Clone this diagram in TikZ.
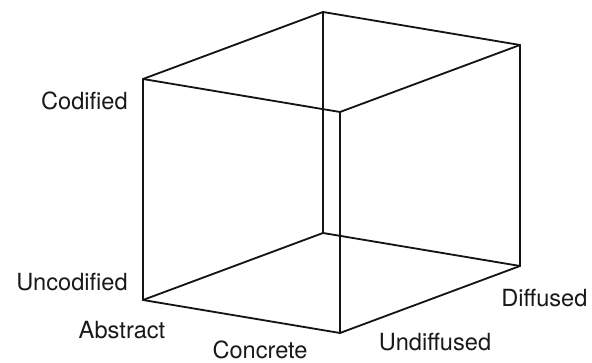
\documentclass[tikz,border=0pt]{standalone}
\usepackage{fontspec}
\setmainfont{TeX Gyre Heros}
\usepackage{tikz}
\usetikzlibrary{calc,positioning}
\definecolor{EdgeBlack}{RGB}{20,20,20}
\definecolor{LabelBlack}{RGB}{25,25,25}

\begin{document}
\begin{tikzpicture}[
    edge/.style={line width=1.3pt,EdgeBlack,line cap=round,line join=round},
    axislabel/.style={inner sep=0pt,text=LabelBlack,font=\fontsize{16.8}{20}\selectfont}
  ]
      \useasboundingbox (0,0) rectangle (14.8,9.075);
      % lower face
      \coordinate (ll) at (3.575,1.575);
      \coordinate (lf) at ($(ll)+(4.925,-.825)$);
      \coordinate (lb) at ($(ll)+(4.5,1.675)$);
      \coordinate (lr) at ($(lf)+(4.5,1.675)$);
      % upper face
      \foreach \c in {l,f,b,r}{
        \coordinate (u\c) at ($(l\c)+(0,5.525)$);
      }
      \foreach \a/\b in {ul/uf,uf/ur,ur/ub,ub/ul,ll/lf,lf/lr,lr/lb,lb/ll,
                         ul/ll,uf/lf,ur/lr,ub/lb}{
        \draw[edge] (\a)--(\b);
      }
      \node[axislabel,anchor=east] (cod) at (3.2,6.55) {Codified};
      \node[axislabel,anchor=east] (uncod) at (3.2,2.025) {Uncodified};
      \node[axislabel] (abs) at (3.05,.83) {Abstract};
      \node[axislabel] (conc) at (6.5,.34) {Concrete};
      \node[axislabel] (undif) at (10.875,.53) {Undiffused};
      \node[axislabel] (dif) at (13.61,1.63) {Diffused};
    \end{tikzpicture}
\end{document}
